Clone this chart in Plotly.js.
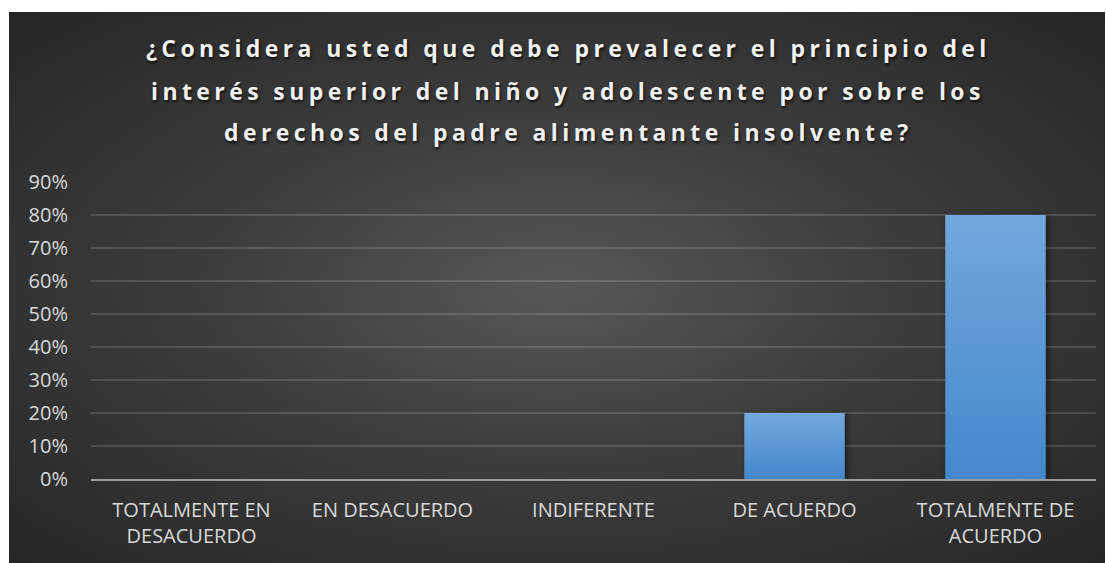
<!DOCTYPE html>
<html>
<head>
<meta charset="utf-8">
<script src="https://cdn.plot.ly/plotly-3.0.1.min.js"></script>
<style>
  html, body { margin: 0; padding: 0; background: #ffffff; }
  #bg { position: absolute; left: 9px; top: 12px; width: 1096px; height: 551px;
        background: radial-gradient(ellipse at 50% 50%, #575757 0%, #3c3c3c 45%, #262626 100%); }
  #chart { position: absolute; left: 0; top: 0; width: 1106px; height: 563px; }
  .annotation-text { letter-spacing: 4.4px; }
  .bars .point path { filter: drop-shadow(3px 1px 3px rgba(0,0,0,0.45)); }
</style>
</head>
<body>
<div id="bg"></div>
<div id="chart"></div>
<script>
// ---- data ----
var categories = ["TOTALMENTE EN<br>DESACUERDO", "EN DESACUERDO", "INDIFERENTE", "DE ACUERDO", "TOTALMENTE DE<br>ACUERDO"];
var values = [0, 0, 0, 0.20, 0.80];
var yTickValues = [0, 0.1, 0.2, 0.3, 0.4, 0.5, 0.6, 0.7, 0.8, 0.9];
var titleLines = [
  "¿Considera usted que debe prevalecer el principio del",
  "interés superior del niño y adolescente por sobre los",
  "derechos del padre alimentante insolvente?"
];

// ---- layout helpers ----
var W = 1106, H = 563;
var M = { l: 91, r: 10, t: 182, b: 84 };
var plotH = H - M.t - M.b;
function paperY(px) { return (H - M.b - px) / plotH; }
function paperX(px) { return (px - M.l) / (W - M.l - M.r); }
var titleCentersPx = [48, 91, 132];

var annotations = titleLines.map(function (line, i) {
  return {
    text: line,
    xref: 'paper', yref: 'paper',
    x: paperX(568), y: paperY(titleCentersPx[i]),
    xanchor: 'center', yanchor: 'middle',
    showarrow: false,
    font: { family: 'Open Sans, sans-serif', size: 23, color: '#f2f2f2', weight: 700,
            shadow: '1px 2px 3px rgba(0,0,0,0.75)' }
  };
});

var trace = {
  type: 'bar',
  x: categories,
  y: values,
  marker: { color: '#5b9bd5', line: { width: 0 } },
  hoverinfo: 'none'
};

var tickFont = { family: 'Open Sans, sans-serif', size: 20, color: '#d9d9d9' };

var layout = {
  width: W, height: H,
  margin: M,
  paper_bgcolor: 'rgba(0,0,0,0)',
  plot_bgcolor: 'rgba(0,0,0,0)',
  showlegend: false,
  bargap: 0.5,
  annotations: annotations,
  xaxis: {
    type: 'category',
    tickfont: tickFont,
    showgrid: false,
    showline: true,
    linecolor: '#9c9c9c',
    linewidth: 2,
    ticks: '',
    ticklabelstandoff: 12,
    fixedrange: true
  },
  yaxis: {
    range: [0, 0.9],
    tickvals: yTickValues,
    tickformat: '.0%',
    tickfont: tickFont,
    showgrid: true,
    gridcolor: 'rgba(255,255,255,0.14)',
    gridwidth: 1.5,
    zeroline: false,
    showline: false,
    ticks: '',
    ticklabelstandoff: 22,
    fixedrange: true
  }
};

Plotly.newPlot('chart', [trace], layout, { displayModeBar: false, staticPlot: true }).then(function (gd) {
  var svg = gd.querySelector('svg.main-svg');
  var ns = 'http://www.w3.org/2000/svg';
  var defs = svg.querySelector('defs') || svg.insertBefore(document.createElementNS(ns, 'defs'), svg.firstChild);
  var grad = document.createElementNS(ns, 'linearGradient');
  grad.setAttribute('id', 'barGrad');
  grad.setAttribute('x1', '0'); grad.setAttribute('y1', '0');
  grad.setAttribute('x2', '0'); grad.setAttribute('y2', '1');
  [['0%', '#72a8de'], ['100%', '#4388ca']].forEach(function (s) {
    var st = document.createElementNS(ns, 'stop');
    st.setAttribute('offset', s[0]);
    st.setAttribute('stop-color', s[1]);
    grad.appendChild(st);
  });
  defs.appendChild(grad);
  gd.querySelectorAll('.bars .point path').forEach(function (p) {
    p.style.fill = 'url(#barGrad)';
  });
});
</script>
</body>
</html>
